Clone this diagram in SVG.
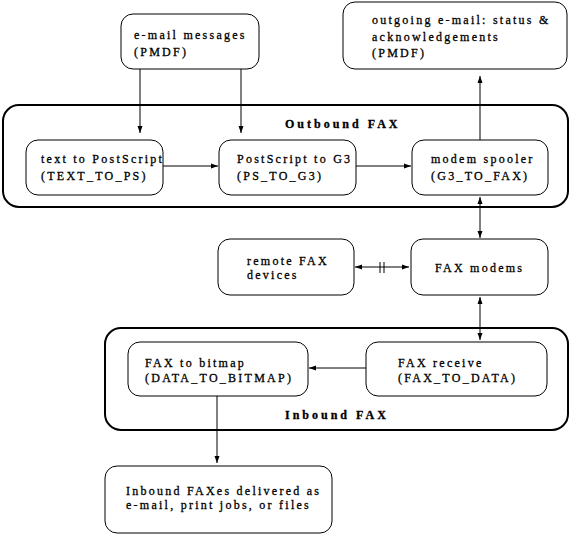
<svg xmlns="http://www.w3.org/2000/svg" width="570" height="535" viewBox="0 0 570 535">
<defs>
<marker id="ah" markerWidth="8" markerHeight="6" refX="7" refY="3" orient="auto-start-reverse" markerUnits="userSpaceOnUse">
<path d="M0,0.5 L7,3 L0,5.5 z" fill="#000"/>
</marker>
<style>
.box{fill:#fff;stroke:#000;stroke-width:1}
.grp{fill:none;stroke:#000;stroke-width:2}
.t{font-family:"Liberation Serif","DejaVu Serif",serif;font-size:12px;letter-spacing:2.25px;fill:#000;stroke:#000;stroke-width:0.3}
.g{font-family:"Liberation Serif","DejaVu Serif",serif;font-size:12px;font-weight:bold;letter-spacing:3px;fill:#000;stroke:#000;stroke-width:0.3}
.c{fill:none;stroke:#000;stroke-width:1}
.a{marker-end:url(#ah)}
.b{marker-start:url(#ah);marker-end:url(#ah)}
</style>
</defs>
<rect width="570" height="535" fill="#fff"/>
<g id="outbound">
<rect class="grp" x="3" y="105" width="565" height="102" rx="16"/>
<text class="g" x="285" y="128">Outbound FAX</text>
</g>
<g id="inbound">
<rect class="grp" x="105" y="328" width="463" height="102" rx="16"/>
<text class="g" x="285" y="419">Inbound FAX</text>
</g>
<g id="connectors">
<line class="c a" x1="140" y1="69" x2="140" y2="133"/>
<line class="c a" x1="241" y1="69" x2="241" y2="133"/>
<line class="c a" x1="163" y1="166" x2="218" y2="166"/>
<line class="c a" x1="356" y1="166" x2="411" y2="166"/>
<line class="c a" x1="480" y1="140" x2="480" y2="76"/>
<line class="c b" x1="480" y1="197" x2="480" y2="238"/>
<line class="c b" x1="355" y1="267" x2="409" y2="267"/>
<line class="c" x1="380" y1="262" x2="380" y2="273"/>
<line class="c" x1="384" y1="262" x2="384" y2="273"/>
<line class="c b" x1="480" y1="297" x2="480" y2="340"/>
<line class="c a" x1="366" y1="368" x2="309" y2="368"/>
<line class="c a" x1="217" y1="396" x2="217" y2="463"/>
</g>
<g id="email">
<rect class="box" x="121" y="14" width="138" height="55" rx="12"/>
<text class="t" x="134" y="39">e-mail messages</text>
<text class="t" x="134" y="56">(PMDF)</text>
</g>
<g id="outgoing">
<rect class="box" x="343" y="2" width="224" height="67" rx="12"/>
<text class="t" x="372" y="24">outgoing e-mail: status &amp;</text>
<text class="t" x="372" y="41">acknowledgements</text>
<text class="t" x="372" y="57">(PMDF)</text>
</g>
<g id="text2ps">
<rect class="box" x="26" y="140" width="137" height="55" rx="12"/>
<text class="t" x="41" y="163">text to PostScript</text>
<text class="t" x="41" y="180">(TEXT_TO_PS)</text>
</g>
<g id="ps2g3">
<rect class="box" x="219" y="140" width="137" height="55" rx="12"/>
<text class="t" x="237" y="163">PostScript to G3</text>
<text class="t" x="237" y="180">(PS_TO_G3)</text>
</g>
<g id="spooler">
<rect class="box" x="412" y="140" width="136" height="55" rx="12"/>
<text class="t" x="431" y="163">modem spooler</text>
<text class="t" x="431" y="180">(G3_TO_FAX)</text>
</g>
<g id="remote">
<rect class="box" x="218" y="239" width="136" height="56" rx="12"/>
<text class="t" x="247" y="265">remote FAX</text>
<text class="t" x="247" y="279">devices</text>
</g>
<g id="faxmodems">
<rect class="box" x="411" y="239" width="137" height="56" rx="12"/>
<text class="t" x="435" y="272">FAX modems</text>
</g>
<g id="bitmap">
<rect class="box" x="128" y="342" width="180" height="54" rx="12"/>
<text class="t" x="145" y="367">FAX to bitmap</text>
<text class="t" x="145" y="382">(DATA_TO_BITMAP)</text>
</g>
<g id="receive">
<rect class="box" x="366" y="342" width="181" height="54" rx="12"/>
<text class="t" x="398" y="367">FAX receive</text>
<text class="t" x="398" y="382">(FAX_TO_DATA)</text>
</g>
<g id="delivered">
<rect class="box" x="105" y="466" width="227" height="67" rx="12"/>
<text class="t" x="126" y="495">Inbound FAXes delivered as</text>
<text class="t" x="126" y="509">e-mail, print jobs, or files</text>
</g>
</svg>
